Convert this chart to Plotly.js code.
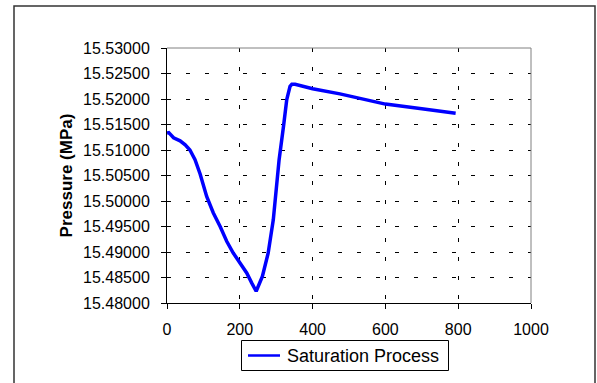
<!DOCTYPE html>
<html>
<head>
<meta charset="utf-8">
<script src="https://cdn.plot.ly/plotly-3.0.1.min.js"></script>
<style>
  html, body { margin: 0; padding: 0; background: #ffffff; }
  #chart { width: 597px; height: 383px; }
</style>
</head>
<body>
<div id="chart"></div>
<script>
// Elapsed time (s) of the saturation run
const timeSec = [0, 5, 18, 36, 50, 63, 77, 91, 109, 127, 146, 164, 182, 200, 219, 233, 245,
                 262, 278, 292, 301, 308, 320, 329, 338, 343, 352, 400, 475, 550, 600, 700, 793];
// Measured pressure (MPa)
const pressureMPa = [15.5133, 15.5134, 15.5124, 15.5118, 15.5110, 15.5100, 15.5081, 15.5053,
                     15.5009, 15.4977, 15.4950, 15.4921, 15.4898, 15.4878, 15.4859, 15.4839, 15.4823,
                     15.4852, 15.4898, 15.4963, 15.5029, 15.5081, 15.5146, 15.5199, 15.5225, 15.5229,
                     15.5229, 15.5220, 15.5210, 15.5197, 15.5190, 15.5181, 15.5172];
const seriesName = 'Saturation Process';
const yTitle = 'Pressure (MPa)';

const FONT = 'Liberation Sans, Arial, sans-serif';
const LINE_COLOR = '#0000ff';
const LINE_WIDTH = 3.5;

// plot area geometry in pixels (used to place frame and legend box in paper units)
const M = { l: 167, r: 66, t: 48, b: 80, autoexpand: false };
const W = 597, H = 383;
const pw = W - M.l - M.r, ph = H - M.t - M.b;
const px2x = p => (p - M.l) / pw;
const px2y = p => (H - M.b - p) / ph;

const trace = {
  x: timeSec,
  y: pressureMPa,
  type: 'scatter',
  mode: 'lines',
  name: seriesName,
  line: { color: LINE_COLOR, width: LINE_WIDTH },
  showlegend: false
};

// legend box below the axis: frame, line sample and series name
const legBox = { x0: 241.5, x1: 448.5, y0: 340.5, y1: 370.5 };
const legMidY = (legBox.y0 + legBox.y1) / 2;

const layout = {
  width: W,
  height: H,
  margin: M,
  paper_bgcolor: '#ffffff',
  plot_bgcolor: '#ffffff',
  font: { family: FONT, color: '#000000', size: 16 },
  showlegend: false,
  xaxis: {
    range: [0, 1000],
    tick0: 0,
    dtick: 200,
    ticks: 'outside',
    ticklen: 5,
    tickcolor: '#000000',
    ticklabelstandoff: 7,
    showline: true,
    linecolor: '#000000',
    linewidth: 1,
    zeroline: false,
    showgrid: true,
    gridcolor: '#000000',
    gridwidth: 1,
    griddash: '4px,15px',
    tickfont: { family: FONT, size: 16, color: '#000000' },
    automargin: false,
    fixedrange: true
  },
  yaxis: {
    range: [15.48, 15.53],
    tick0: 15.48,
    dtick: 0.005,
    tickformat: '.5f',
    ticks: 'outside',
    ticklen: 5,
    tickcolor: '#000000',
    ticklabelstandoff: 8,
    showline: true,
    linecolor: '#000000',
    linewidth: 1,
    zeroline: false,
    showgrid: true,
    gridcolor: '#000000',
    gridwidth: 1,
    griddash: '4px,15px',
    tickfont: { family: FONT, size: 16, color: '#000000' },
    title: { text: '<b>' + yTitle + '</b>', font: { family: FONT, size: 17, color: '#000000' }, standoff: 6 },
    automargin: false,
    fixedrange: true
  },
  shapes: [
    // grey frame on the top and right of the plot area
    { type: 'line', xref: 'paper', yref: 'paper', x0: 0, y0: 1, x1: 1, y1: 1,
      line: { color: '#808080', width: 1 } },
    { type: 'line', xref: 'paper', yref: 'paper', x0: 1, y0: 0, x1: 1, y1: 1,
      line: { color: '#808080', width: 1 } },
    // outer chart frame
    { type: 'rect', xref: 'paper', yref: 'paper',
      x0: px2x(14), x1: px2x(595), y0: px2y(420), y1: px2y(6),
      line: { color: '#333333', width: 1.5 }, fillcolor: 'rgba(0,0,0,0)', layer: 'below' },
    // legend frame
    { type: 'rect', xref: 'paper', yref: 'paper',
      x0: px2x(legBox.x0), x1: px2x(legBox.x1), y0: px2y(legBox.y1), y1: px2y(legBox.y0),
      line: { color: '#000000', width: 1 }, fillcolor: '#ffffff' },
    // legend line sample
    { type: 'line', xref: 'paper', yref: 'paper',
      x0: px2x(248), x1: px2x(280), y0: px2y(legMidY), y1: px2y(legMidY),
      line: { color: LINE_COLOR, width: LINE_WIDTH - 1 } }
  ],
  annotations: [
    { xref: 'paper', yref: 'paper', x: px2x(285), y: px2y(legMidY + 0.5),
      xanchor: 'left', yanchor: 'middle', showarrow: false,
      text: seriesName, font: { family: FONT, size: 18, color: '#000000' } }
  ]
};

Plotly.newPlot('chart', [trace], layout, { displayModeBar: false, staticPlot: true });
</script>
</body>
</html>
